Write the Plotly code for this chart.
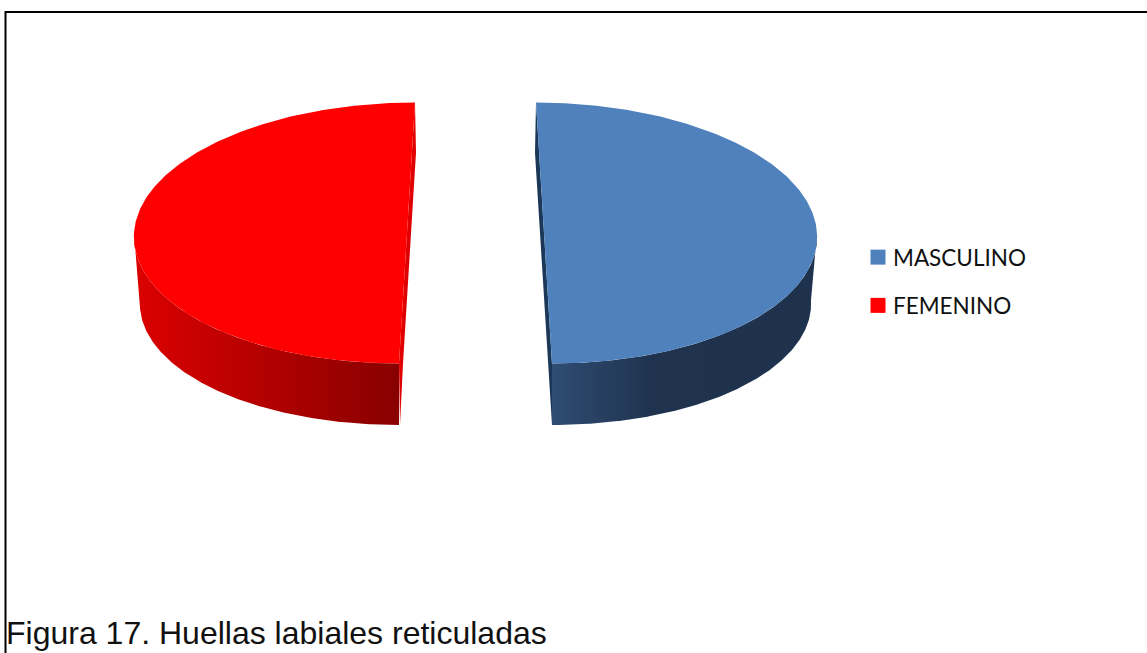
import numpy as np
import plotly.graph_objects as go

# Data
categories = ["MASCULINO", "FEMENINO"]
values = [50, 50]
colors = ["#4f81bd", "#ff0000"]
caption = "Figura 17. Huellas labiales reticuladas"

# Pie geometry (page pixels)
W, H = 1147, 653
SLICE_STYLE = {
    "MASCULINO": dict(cx=544, skew=8, cut="#1b3858",
                      wall=[[0, "#2f4c72"], [0.38, "#1f334f"], [1, "#1e324e"]]),
    "FEMENINO": dict(cx=407, skew=-8, cut="#e00000",
                     wall=[[0, "#dc0000"], [1, "#880000"]]),
}
TOP = dict(cy=233, rx=273, ry=130.5)
BOT = dict(cy=300, rx=267, ry=125)
BACK_DROP, BACK_DX = 50, 1


def arc(cx, skew, e, a0, a1, n=240):
    t = np.radians(np.linspace(a0, a1, n))
    return cx + e["rx"] * np.cos(t) + skew * np.sin(t), e["cy"] + e["ry"] * np.sin(t)


fig = go.Figure()
total = sum(values)
start = -90.0
for name, val, col in zip(categories, values, colors):
    s = SLICE_STYLE[name]
    end = start + 360.0 * val / total
    cx, sk = s["cx"], s["skew"]

    # outer wall: front-facing part of the slice (0..180 deg on screen)
    w0, w1 = max(start, 0), min(end, 180)
    bx, by = arc(cx, sk, BOT, w0, w1)
    tx, ty = arc(cx, sk, TOP, w1, w0)
    wall = go.Scatter(
        x=np.r_[bx, tx], y=np.r_[by, ty], mode="lines", fill="toself",
        line=dict(width=0), hoverinfo="skip", showlegend=False,
        fillgradient=dict(type="horizontal", colorscale=s["wall"]),
    )

    # cut face along the slice's straight edge
    back_ang = -90 if name == "MASCULINO" else 270
    front_ang = 90
    bkx, bky = arc(cx, sk, TOP, back_ang, back_ang, 1)
    ftx, fty = arc(cx, sk, TOP, front_ang, front_ang, 1)
    fbx, fby = arc(cx, sk, BOT, front_ang, front_ang, 1)
    if name == "MASCULINO":
        cut_x = [bkx[0], bkx[0] - BACK_DX, fbx[0], ftx[0], bkx[0]]
        cut_y = [bky[0], bky[0] + BACK_DROP, fby[0], fty[0], bky[0]]
    else:
        cut_x = [bkx[0], bkx[0] + BACK_DX, ftx[0] + 4, fbx[0] + 1, ftx[0], bkx[0]]
        cut_y = [bky[0], bky[0] + BACK_DROP, fty[0], fby[0], fty[0], bky[0]]
    cut = go.Scatter(
        x=cut_x, y=cut_y,
        mode="lines", fill="toself", fillcolor=s["cut"],
        line=dict(width=0), hoverinfo="skip", showlegend=False,
    )
    fig.add_traces([cut, wall])

    # top face
    ax, ay = arc(cx, sk, TOP, start, end)
    fig.add_trace(go.Scatter(
        x=ax, y=ay, mode="lines", fill="toself", fillcolor=col,
        line=dict(width=0), hoverinfo="skip", showlegend=False,
    ))

    # legend entry
    fig.add_trace(go.Scatter(
        x=[None], y=[None], mode="markers", name=name, legendgroup=name,
        marker=dict(symbol="square", size=15, color=col),
    ))
    start = end

fig.update_layout(
    width=W, height=H, margin=dict(l=0, r=0, t=0, b=0),
    paper_bgcolor="white", plot_bgcolor="white",
    xaxis=dict(range=[0, W], visible=False, fixedrange=True),
    yaxis=dict(range=[H, 0], visible=False, fixedrange=True),
    legend=dict(x=853 / W, y=1 - 236 / H, xanchor="left", yanchor="top",
                font=dict(family="Lato", size=22.5, color="#111111"),
                tracegroupgap=16, itemsizing="trace", bgcolor="rgba(0,0,0,0)"),
    shapes=[
        dict(type="line", xref="x", yref="y", x0=5, x1=W, y0=12, y1=12,
             line=dict(color="#000000", width=2)),
        dict(type="line", xref="x", yref="y", x0=5.5, x1=5.5, y0=11, y1=H,
             line=dict(color="#000000", width=2)),
    ],
    annotations=[dict(
        x=4, y=633, xref="x", yref="y", text=caption, showarrow=False,
        xanchor="left", yanchor="middle",
        font=dict(family="Liberation Sans", size=32, color="#111111"),
    )],
)

nudge = ("function n(){document.querySelectorAll('.legendsymbols')"
         ".forEach(function(g){g.setAttribute('transform','translate(5,0)');});}"
         "n();setTimeout(n,50);")
fig.write_html("out.html", config={"displayModeBar": False},
               post_script="document.body.style.margin='0';document.body.style.overflow='hidden';" + nudge)
